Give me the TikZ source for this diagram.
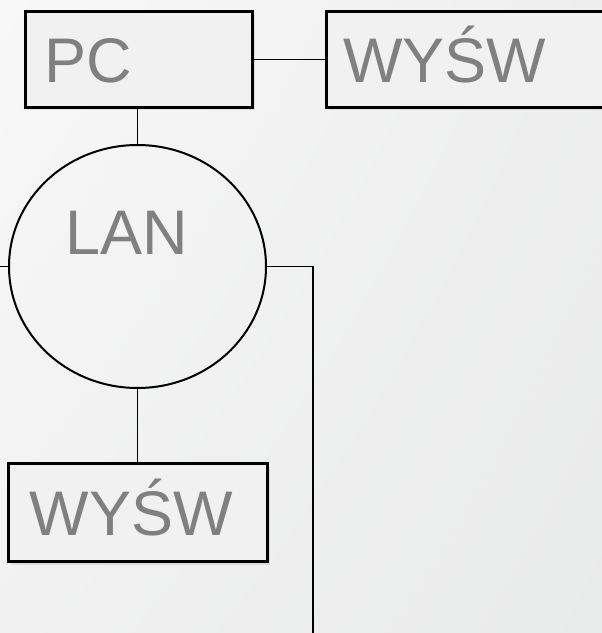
\documentclass[tikz,border=0pt]{standalone}
\usepackage{fontspec}
\setmainfont{Liberation Sans}
\usetikzlibrary{shapes.geometric,shadows,shadings}
\definecolor{bgul}{HTML}{F8F8F8}
\definecolor{bgur}{HTML}{EEEEEE}
\definecolor{bgll}{HTML}{F1F1F1}
\definecolor{bglr}{HTML}{E9EAEA}
\definecolor{boxfill}{HTML}{F1F1F1}
\definecolor{lbl}{HTML}{808080}
\newcommand{\lblfont}{\fontsize{63}{70}\selectfont}

\begin{document}
\begin{tikzpicture}[x=1pt, y=1pt,
    box/.style={draw, line width=3pt, fill=boxfill, minimum height=96pt, text height=46pt, text depth=0pt, align=left,
        font=\lblfont, text=lbl, drop shadow={opacity=0.18, shadow xshift=3pt, shadow yshift=-3pt}},
    hub/.style={draw, ellipse, line width=2pt, inner sep=0pt},
    caption/.style={font=\lblfont, text=lbl, inner sep=0pt},
    link/.style={line width=1.6pt}
]
\useasboundingbox (0,0) rectangle (602,633);
\clip (0,0) rectangle (602,633);
\shade[upper left=bgul, upper right=bgur, lower left=bgll, lower right=bglr] (0,0) rectangle (602,633);

\node[box, inner xsep=19pt, text width=189pt] (pc) at (138.5,573.5) {PC};
\node[box, inner xsep=17pt, text width=280pt] (wyswtop) at (483,573.5) {WYŚW};
\node[hub, minimum width=257pt, minimum height=243pt] (lan) at (137.5,366.5) {};
\node[caption, anchor=base west] (lanname) at (65.5,378) {LAN};
\node[box, inner xsep=22pt, text width=215pt, minimum height=98pt] (wyswbot) at (137.5,120) {WYŚW};

\coordinate (edge) at (-5,0);
\coordinate (bus) at (313,-5);

\draw[link] (pc) -- (wyswtop);
\draw[link] (lan.north) -- (lan.north |- pc.south);
\draw[link] (lan) -- (wyswbot);
\draw[link] (lan.west) -- (lan.west -| edge);
\draw[link] (lan.east) -| (bus);
\end{tikzpicture}
\end{document}
